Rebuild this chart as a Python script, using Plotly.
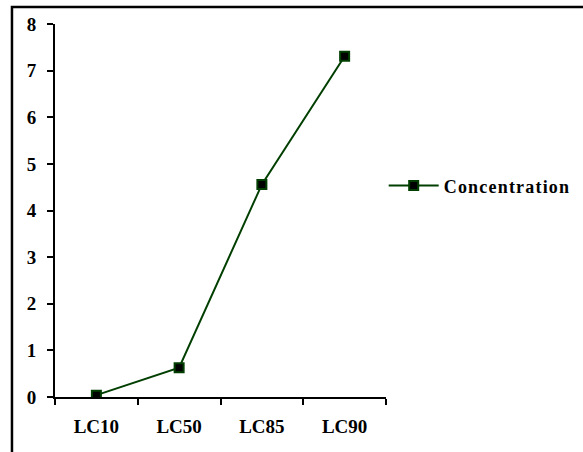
import plotly.graph_objects as go

# LC values of the concentration curve
categories = ["LC10", "LC50", "LC85", "LC90"]
concentration = [0.04, 0.63, 4.56, 7.31]
y_ticks = [0, 1, 2, 3, 4, 5, 6, 7, 8]

GREEN = "#003f00"
FONT = "Liberation Serif"
tick_font = dict(family=FONT, size=19, color="black", weight="bold")

fig = go.Figure()
fig.add_trace(go.Scatter(
    x=categories,
    y=concentration,
    mode="lines+markers",
    name="Concentration",
    line=dict(color=GREEN, width=2),
    marker=dict(symbol="square", size=9, color="black",
                line=dict(color=GREEN, width=2)),
))

fig.update_layout(
    width=583, height=452,
    margin=dict(l=55, r=197, t=24, b=55),
    paper_bgcolor="white", plot_bgcolor="white",
    font=dict(family=FONT, size=19, color="black", weight="bold"),
    showlegend=True,
    legend=dict(x=0.993, y=0.566, xanchor="left", yanchor="middle",
                itemwidth=50, bgcolor="rgba(0,0,0,0)",
                font=dict(family=FONT, size=18, weight="bold")),
    xaxis=dict(type="category", range=[-0.5, 3.5], tickson="boundaries",
               showline=True, linecolor="black", linewidth=2,
               ticks="outside", ticklen=6, tickwidth=2, tickcolor="black",
               tickfont=tick_font,
               showgrid=False, zeroline=False, ticklabelstandoff=11),
    yaxis=dict(range=[0, 8], tickvals=y_ticks,
               showline=True, linecolor="black", linewidth=2,
               ticks="outside", ticklen=6, tickwidth=2, tickcolor="black",
               tickfont=tick_font,
               showgrid=False, zeroline=False, ticklabelstandoff=7),
    shapes=[dict(type="rect", xref="paper", yref="paper",
                 x0=-0.13, x1=1.7, y0=-0.3, y1=1.0456,
                 line=dict(color="black", width=2.5), layer="below")],
)

# widen the legend lettering and let it run past the legend box
fig.write_html("out.html", post_script=(
    "document.querySelectorAll('.legendtext').forEach("
    "function(t){t.style.letterSpacing='1.2px';});"
    "document.querySelectorAll('.legend, .legend *').forEach("
    "function(e){e.removeAttribute('clip-path');});"))
